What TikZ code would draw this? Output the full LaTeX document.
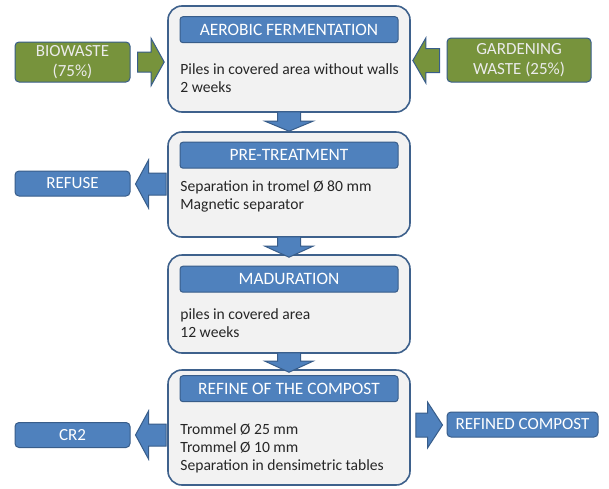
\documentclass[tikz,border=0pt]{standalone}
\usepackage{fontspec}
\setmainfont{Carlito}
\usetikzlibrary{calc}
\definecolor{boxfill}{HTML}{F2F2F2}
\definecolor{boxline}{HTML}{3E618C}
\definecolor{bluefill}{HTML}{4F81BD}
\definecolor{blueline}{HTML}{385D8A}
\definecolor{greenfill}{HTML}{77933C}
\newcommand{\blockarrow}[6]{%
  \coordinate (ba-A) at #2;
  \coordinate (ba-B) at #3;
  \coordinate (ba-H) at ($(ba-B)!#6!(ba-A)$);
  \draw[#1] ($(ba-A)!#4!90:(ba-B)$) -- ($(ba-H)!#4!90:(ba-B)$) --
    ($(ba-H)!#5!90:(ba-B)$) -- (ba-B) -- ($(ba-H)!#5!-90:(ba-B)$) --
    ($(ba-H)!#4!-90:(ba-B)$) -- ($(ba-A)!#4!-90:(ba-B)$) -- cycle;
}
\begin{document}
\begin{tikzpicture}[x=1pt,y=-1pt,
  mainbox/.style={draw=boxline, line width=1.6pt, fill=boxfill, rounded corners=14pt,
    minimum width=242pt, inner sep=0pt},
  titlebar/.style={draw=blueline, line width=1pt, fill=bluefill, rounded corners=3pt,
    minimum width=218pt, minimum height=26pt, inner sep=0pt, text=white,
    font=\fontsize{17.4}{18}\selectfont},
  body/.style={anchor=north west, align=left, inner sep=0pt,
    font=\fontsize{15.6}{18}\selectfont, text=black!85},
  sidebox/.style={draw=blueline, line width=1pt, rounded corners=4pt, inner sep=0pt,
    text=white, align=center, font=\fontsize{17}{20}\selectfont},
  greenbox/.style={sidebox, fill=greenfill, text=white!92!black},
  bluebox/.style={sidebox, fill=bluefill, minimum height=25pt},
  garrow/.style={draw=blueline, line width=1pt, fill=greenfill, line join=miter},
  barrow/.style={draw=blueline, line width=1pt, fill=bluefill, line join=miter}
]
\useasboundingbox (0,0) rectangle (609,488);
\fill[white] (0,0) rectangle (609,488);

% main boxes
\node[mainbox, minimum height=106pt] (b1) at (289,59) {};
\node[mainbox, minimum height=105pt] (b2) at (289,184.5) {};
\node[mainbox, minimum height=98pt] (b3) at (289,304) {};
\node[mainbox, minimum height=115pt] (b4) at (289,427.5) {};

% title bars
\node[titlebar] (t1) at ($(b1.north)+(0,24.5)$) {AEROBIC FERMENTATION};
\node[titlebar] (t2) at ($(b2.north)+(0,24)$) {PRE-TREATMENT};
\node[titlebar] (t3) at ($(b3.north)+(0,25)$) {MADURATION};
\node[titlebar] (t4) at ($(b4.north)+(0,19.5)$) {REFINE OF THE COMPOST};

% body texts
\node[body] (d1) at ($(b1.north west)+(13,58)$) {Piles in covered area without walls\\2 weeks};
\node[body] (d2) at ($(b2.north west)+(13,49)$) {Separation in tromel Ø 80 mm\\Magnetic separator};
\node[body] (d3) at ($(b3.north west)+(13,54)$) {piles in covered area\\12 weeks};
\node[body] (d4) at ($(b4.north west)+(13,54)$) {Trommel Ø 25 mm\\Trommel Ø 10 mm\\Separation in densimetric tables};

% side boxes
\node[greenbox, minimum width=115pt, minimum height=40pt] (bio) at (72.5,62) {BIOWASTE\\(75\%)};
\node[greenbox, minimum width=144pt, minimum height=44pt] (gard) at (519,60) {GARDENING\\WASTE (25\%)};
\node[bluebox, minimum width=115pt] (ref) at (72.5,183.5) {REFUSE};
\node[bluebox, minimum width=115pt] (cr2) at (72.5,435) {CR2};
\node[bluebox, minimum width=151pt] (fin) at (522.5,424.5) {REFINED COMPOST};

% block arrows
\blockarrow{barrow}{($(b1.south)+(0,-1)$)}{(b2.north)}{11.5pt}{24pt}{10pt}
\blockarrow{barrow}{($(b2.south)+(0,-1)$)}{($(b3.north)+(0,3)$)}{11.5pt}{24pt}{11pt}
\blockarrow{barrow}{($(b3.south)+(0,-1)$)}{($(b4.north)+(0,3)$)}{11.5pt}{24pt}{11pt}
\blockarrow{garrow}{($(bio.east)+(7,0)$)}{($(b1.west|-bio.east)+(-3,0)$)}{10pt}{23.5pt}{13pt}
\blockarrow{garrow}{($(gard.west)+(-7,0.5)$)}{($(b1.east|-gard.west)+(2,0.5)$)}{12pt}{22.5pt}{13pt}
\blockarrow{barrow}{($(b2.west|-ref.east)+(-1,0.5)$)}{($(ref.east)+(5,0.5)$)}{11pt}{24pt}{13pt}
\blockarrow{barrow}{($(b4.west|-cr2.east)+(-1,0)$)}{($(cr2.east)+(5,0)$)}{11pt}{24pt}{13pt}
\blockarrow{barrow}{($(b4.east|-fin.west)+(5,0.5)$)}{($(fin.west)+(-4,0.5)$)}{12pt}{23pt}{15pt}
\end{tikzpicture}
\end{document}
